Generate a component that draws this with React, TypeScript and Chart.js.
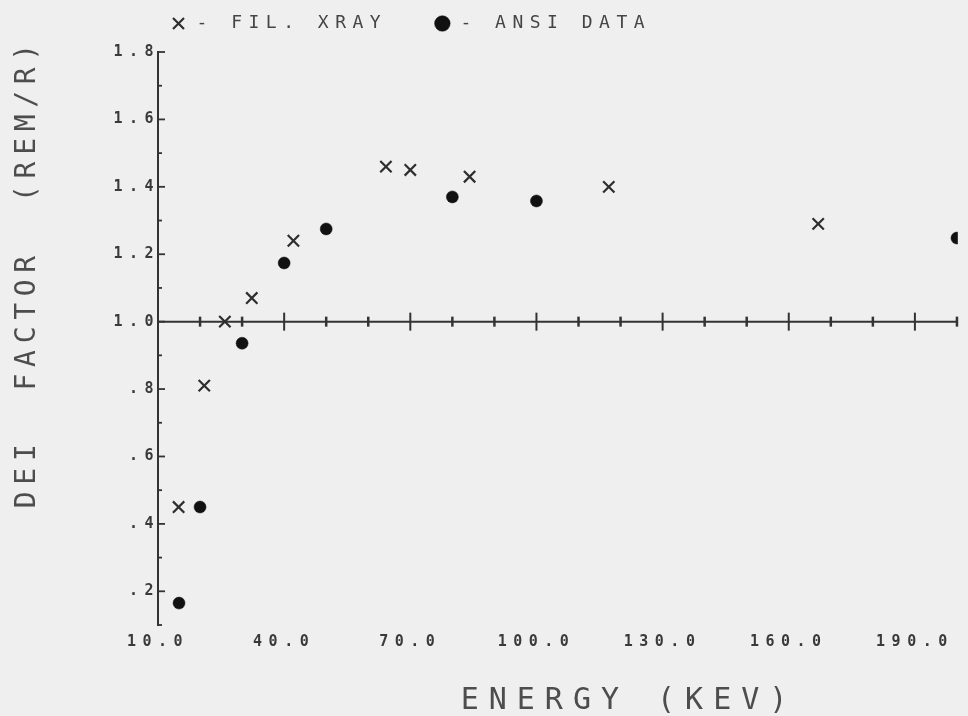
import React, { useEffect, useRef } from 'react';
import { Chart, registerables } from 'chart.js';

Chart.register(...registerables);

// ---- data ----
const seriesLabels = ['FIL. XRAY', 'ANSI DATA'];
const xrayEnergy = [14.9, 21.0, 25.9, 32.3, 42.2, 64.2, 70.0, 84.1, 117.2, 167.0];
const xrayFactor = [0.45, 0.81, 1.0, 1.07, 1.24, 1.46, 1.45, 1.43, 1.40, 1.29];
const ansiEnergy = [15, 20, 30, 40, 50, 80, 100, 200];
const ansiFactor = [0.165, 0.45, 0.936, 1.174, 1.275, 1.37, 1.358, 1.248];
const xTickValues = [10, 40, 70, 100, 130, 160, 190];
const yTickValues = [0.2, 0.4, 0.6, 0.8, 1.0, 1.2, 1.4, 1.6, 1.8];
const referenceLine = 1.0;
const xTitle = 'ENERGY (KEV)';
const yTitle = 'DEI  FACTOR  (REM/R)';

// ---- style ----
const MONO = '"DejaVu Sans Mono", monospace';
const INK = '#333333';
const TEXT = '#4d4d4d';
const TICK_TEXT = '#3a3a3a';
const SPACING = '6.5px';

const near = (a: number, b: number) => Math.abs(a - b) < 1e-6;
const fmtX = (v: number) => v.toFixed(1);
const fmtY = (v: number) => (v < 1 ? v.toFixed(1).replace(/^0/, '') : v.toFixed(1));

const plotterPlugin = {
  id: 'plotter',
  beforeLayout(chart: any) {
    chart.ctx.letterSpacing = SPACING;
  },
  beforeDraw(chart: any) {
    chart.ctx.letterSpacing = SPACING;
  },
  beforeDatasetsDraw(chart: any) {
    const { ctx, chartArea, scales } = chart;
    const xs = scales.x;
    const ys = scales.y;
    ctx.save();
    ctx.strokeStyle = INK;
    ctx.lineWidth = 2;
    // horizontal reference line at 1.0 with crossing ticks
    const yRef = ys.getPixelForValue(referenceLine);
    ctx.beginPath();
    ctx.moveTo(chartArea.left, yRef);
    ctx.lineTo(chartArea.right, yRef);
    ctx.stroke();
    xs.ticks.forEach((t: any) => {
      const v = Math.round(t.value);
      if (v % 10 !== 0 || v <= xs.min) return;
      const px = xs.getPixelForValue(v);
      const major = xTickValues.some((m) => near(m, v));
      const h = major ? 9 : 5;
      ctx.lineWidth = major ? 2 : 2.5;
      ctx.beginPath();
      ctx.moveTo(px, yRef - h);
      ctx.lineTo(px, yRef + h);
      ctx.stroke();
    });
    // inward ticks on the y axis
    ctx.lineWidth = 1.8;
    ys.ticks.forEach((t: any) => {
      const py = ys.getPixelForValue(t.value);
      const major = yTickValues.some((m) => near(m, t.value));
      const len = major ? 7 : 4;
      ctx.beginPath();
      ctx.moveTo(chartArea.left, py);
      ctx.lineTo(chartArea.left + len, py);
      ctx.stroke();
    });
    ctx.restore();
  },
  afterDraw(chart: any) {
    const { ctx } = chart;
    ctx.save();
    ctx.fillStyle = TEXT;
    ctx.textAlign = 'left';
    ctx.textBaseline = 'alphabetic';
    // x axis title
    ctx.font = `30px ${MONO}`;
    ctx.letterSpacing = '10px';
    const wx = ctx.measureText(xTitle).width - 10;
    ctx.fillText(xTitle, 624 - wx / 2, 708.5);
    // y axis title (rotated)
    ctx.font = `28px ${MONO}`;
    ctx.letterSpacing = '6.7px';
    const wy = ctx.measureText(yTitle).width - 6.7;
    ctx.translate(35, 276);
    ctx.rotate(-Math.PI / 2);
    ctx.fillText(yTitle, -wy / 2, 0);
    ctx.restore();
  },
};

export default function App() {
  const ref = useRef<HTMLCanvasElement>(null);

  useEffect(() => {
    const canvas = ref.current;
    if (!canvas) return;
    const tickFont = { family: MONO, size: 15, weight: 'bold' as const };
    const chart = new Chart(canvas, {
      type: 'scatter',
      data: {
        datasets: [
          {
            label: seriesLabels[0],
            data: xrayEnergy.map((x, i) => ({ x, y: xrayFactor[i] })),
            pointStyle: 'crossRot',
            pointRadius: 8,
            borderWidth: 2.2,
            borderColor: '#2e2e2e',
            backgroundColor: '#2e2e2e',
          },
          {
            label: seriesLabels[1],
            data: ansiEnergy.map((x, i) => ({ x, y: ansiFactor[i] })),
            pointStyle: 'circle',
            pointRadius: 6,
            borderWidth: 0.5,
            borderColor: '#111111',
            backgroundColor: '#111111',
          },
        ],
      },
      options: {
        animation: false,
        responsive: false,
        events: [],
        layout: { padding: { top: 3, left: 0, right: 0, bottom: 0 } },
        plugins: {
          tooltip: { enabled: false },
          legend: {
            display: true,
            position: 'top',
            align: 'start',
            fullSize: false,
            labels: {
              usePointStyle: true,
              boxWidth: 18,
              boxHeight: 11,
              padding: 11.5,
              color: '#454545',
              font: { family: MONO, size: 18 },
              generateLabels: (c: any) =>
                (Chart.defaults.plugins.legend.labels as any)
                  .generateLabels(c)
                  .map((item: any, i: number) => ({
                    ...item,
                    text: '- ' + item.text + (i === 0 ? '  ' : ''),
                  })),
            },
          },
          subtitle: {
            display: true,
            text: '',
            position: 'top',
            weight: 500,
            padding: 0,
            font: { size: 9.5, lineHeight: 1 },
          },
        },
        scales: {
          x: {
            type: 'linear',
            min: 10,
            max: 200.2,
            position: 'bottom',
            border: { display: false },
            grid: { display: false, drawTicks: false },
            ticks: {
              stepSize: 10,
              autoSkip: false,
              maxRotation: 0,
              minRotation: 0,
              padding: 8,
              color: TICK_TEXT,
              font: tickFont,
              callback: (v: any) => {
                const m = xTickValues.find((t) => near(t, Number(v)));
                return m === undefined ? '' : fmtX(m);
              },
            },
            afterFit: (s: any) => {
              s.height = 91;
            },
          },
          y: {
            type: 'linear',
            min: 0.1,
            max: 1.8,
            position: 'left',
            border: { display: true, color: INK, width: 2 },
            grid: { display: false, drawTicks: false },
            ticks: {
              stepSize: 0.1,
              autoSkip: false,
              padding: -2,
              color: TICK_TEXT,
              font: tickFont,
              callback: (v: any) => {
                const m = yTickValues.find((t) => near(t, Number(v)));
                return m === undefined ? '' : fmtY(m);
              },
            },
            afterFit: (s: any) => {
              s.width = 158;
            },
          },
        },
      } as any,
      plugins: [plotterPlugin],
    });
    return () => chart.destroy();
  }, []);

  return (
    <div
      style={{
        position: 'fixed',
        left: 0,
        top: 0,
        width: 968,
        height: 716,
        background: '#efefef',
      }}
    >
      <canvas ref={ref} width={968} height={716} style={{ display: 'block', width: 968, height: 716 }} />
    </div>
  );
}
